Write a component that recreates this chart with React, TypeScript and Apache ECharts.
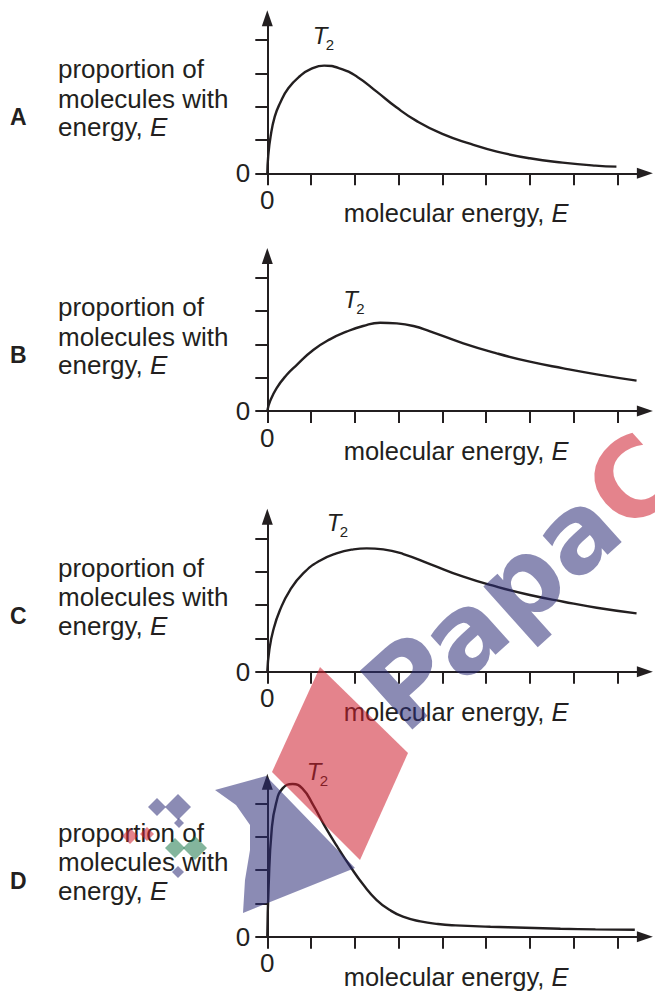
import { useEffect, useRef } from "react";
import * as echarts from "echarts";

// Panel identifiers
const panelLetters = ["A", "B", "C", "D"];

// Tick positions (one step per tick mark) and the single labelled value
const xTickValues = [0, 1, 2, 3, 4, 5, 6, 7, 8];
const yTickValues = [0, 1, 2, 3, 4];
const zeroLabel = [0];

// Axis titles
const yTitleLines = ["proportion of", "molecules with", "energy, "];
const italicSymbol = "E";
const xTitle = "molecular energy, ";
const curveLabel = { main: "T", sub: "2" };

// Energy distribution curves: [molecular energy, proportion of molecules]
const curveA: number[][] = [
  [0, 0], [0.02, 0.5], [0.075, 1.1], [0.17, 1.7], [0.29, 2.1], [0.48, 2.55],
  [0.75, 2.92], [1.0, 3.13], [1.3, 3.23], [1.65, 3.15], [2.05, 2.9], [2.5, 2.45],
  [2.95, 1.98], [3.4, 1.58], [4.0, 1.18], [4.65, 0.88], [5.25, 0.65], [6.0, 0.45],
  [6.75, 0.32], [7.5, 0.23], [7.98, 0.2],
];
const curveB: number[][] = [
  [0, 0], [0.06, 0.28], [0.21, 0.68], [0.44, 1.08], [0.67, 1.38], [1.05, 1.83],
  [1.43, 2.15], [1.81, 2.38], [2.19, 2.55], [2.58, 2.65], [2.96, 2.63], [3.34, 2.55],
  [3.72, 2.39], [4.48, 2.03], [5.24, 1.73], [6.0, 1.48], [6.77, 1.28], [7.53, 1.1],
  [8.44, 0.91],
];
const curveC: number[][] = [
  [0, 0], [0.046, 0.65], [0.137, 1.25], [0.29, 1.85], [0.52, 2.45], [0.82, 2.95],
  [1.2, 3.33], [1.58, 3.55], [1.97, 3.67], [2.27, 3.7], [2.65, 3.67], [3.11, 3.53],
  [3.72, 3.23], [4.48, 2.85], [5.24, 2.55], [6.0, 2.3], [6.77, 2.1], [7.53, 1.92],
  [8.44, 1.75],
];
const curveD: number[][] = [
  [0, 0], [0.03, 1.5], [0.1, 3.2], [0.2, 4.0], [0.35, 4.45], [0.58, 4.58],
  [0.8, 4.45], [1.05, 3.95], [1.3, 3.35], [1.6, 2.7], [1.9, 2.1], [2.2, 1.55],
  [2.5, 1.1], [2.8, 0.8], [3.1, 0.6], [3.5, 0.46], [3.9, 0.38], [4.3, 0.34],
  [5.1, 0.3], [5.9, 0.27], [6.7, 0.24], [7.5, 0.22], [8.4, 0.21],
];
const curves = [curveA, curveB, curveC, curveD];

// Layout
const PAGE_W = 655;
const PAGE_H = 996;
const AXIS_X = 267.3;
const ORIGIN_Y = [173.3, 411, 671.7, 936.7];
const X_STEP = 43.75;
const Y_STEP = 33.33;
const X_MAX = 8.63;
const Y_MAX = 4.65;
const T_OFFSETS = [
  [52.7, -138.3],
  [83.2, -112],
  [66.7, -149.2],
  [46.7, -165.2],
];
const TITLE_ROWS = [-104, -74.5, -46];

const INK = "#231f20";
const FONT = "'Liberation Sans', Arial, Helvetica, sans-serif";
const TEXT_SIZE = 26;

// Watermark colours
const WM_BLUE = "rgb(44,44,118)";
const WM_RED = "rgb(205,30,45)";
const WM_GREEN = "rgb(30,120,75)";
const WM_OPACITY = 0.55;
const WM_FONT = "'DejaVu Sans', sans-serif";
const WM_SIZE = 108;

function diamond(cx: number, cy: number, r: number) {
  return [
    [cx, cy - r],
    [cx + r, cy],
    [cx, cy + r],
    [cx - r, cy],
  ];
}

function textEl(x: number, y: number, text: string, extra: any = {}, z = 10) {
  const align = extra.align || "left";
  const vAlign = extra.verticalAlign || "middle";
  return {
    type: "text",
    x,
    y,
    z,
    silent: true,
    style: {
      text,
      fill: INK,
      fontFamily: FONT,
      fontSize: TEXT_SIZE,
      ...extra,
      align,
      textAlign: align,
      verticalAlign: vAlign,
      textVerticalAlign: vAlign,
    },
  };
}

function buildOption() {
  const grids: any[] = [];
  const xAxes: any[] = [];
  const yAxes: any[] = [];
  const series: any[] = [];
  const graphics: any[] = [];

  curves.forEach((data, i) => {
    const oy = ORIGIN_Y[i];
    grids.push({
      left: AXIS_X,
      top: oy - Y_MAX * Y_STEP,
      width: X_MAX * X_STEP,
      height: Y_MAX * Y_STEP,
      containLabel: false,
      outerBoundsMode: "none",
    });
    xAxes.push({
      type: "value",
      gridIndex: i,
      min: 0,
      max: X_MAX,
      interval: 1,
      axisLine: {
        show: true,
        onZero: false,
        symbol: ["none", "triangle"],
        symbolSize: [11, 16],
        lineStyle: { color: INK, width: 2 },
      },
      axisTick: {
        show: true,
        inside: false,
        length: 12,
        customValues: xTickValues,
        lineStyle: { color: INK, width: 2 },
      },
      axisLabel: {
        show: true,
        customValues: zeroLabel,
        margin: 14,
        fontSize: TEXT_SIZE,
        lineHeight: 25,
        color: INK,
        fontFamily: FONT,
        formatter: (v: number) => String(v),
      },
      splitLine: { show: false },
      name: `{n|${xTitle}}{i|${italicSymbol}}`,
      nameLocation: "middle",
      nameGap: 26,
      nameMoveOverlap: false,
      nameTextStyle: {
        fontSize: 25.5,
        lineHeight: 28,
        color: INK,
        fontFamily: FONT,
        rich: {
          n: { fontSize: 25.5, lineHeight: 28, color: INK, fontFamily: FONT },
          i: { fontSize: 25.5, lineHeight: 28, color: INK, fontFamily: FONT, fontStyle: "italic" },
        },
      },
    });
    yAxes.push({
      type: "value",
      gridIndex: i,
      min: 0,
      max: Y_MAX,
      interval: 1,
      axisLine: {
        show: true,
        onZero: false,
        symbol: ["none", "triangle"],
        symbolSize: [11, 16],
        lineStyle: { color: INK, width: 2 },
      },
      axisTick: {
        show: true,
        inside: false,
        length: 12,
        customValues: yTickValues,
        lineStyle: { color: INK, width: 2 },
      },
      axisLabel: {
        show: true,
        customValues: zeroLabel,
        margin: 17,
        fontSize: TEXT_SIZE,
        color: INK,
        fontFamily: FONT,
        formatter: (v: number) => String(v),
      },
      splitLine: { show: false },
    });
    series.push({
      type: "line",
      xAxisIndex: i,
      yAxisIndex: i,
      data,
      showSymbol: false,
      symbol: "none",
      smooth: 0.5,
      clip: false,
      silent: true,
      lineStyle: { color: INK, width: 2.4 },
    });

    // panel letter
    graphics.push(
      textEl(10, oy - 56, panelLetters[i], { fontSize: 23, fontWeight: "bold" })
    );
    // y-axis title, three left-aligned rows
    graphics.push(textEl(58, oy + TITLE_ROWS[0], yTitleLines[0]));
    graphics.push(textEl(58, oy + TITLE_ROWS[1], yTitleLines[1]));
    graphics.push(
      textEl(58, oy + TITLE_ROWS[2], `{n|${yTitleLines[2]}}{i|${italicSymbol}}`, {
        rich: {
          n: { fontSize: TEXT_SIZE, fill: INK, fontFamily: FONT },
          i: { fontSize: TEXT_SIZE, fill: INK, fontFamily: FONT, fontStyle: "italic" },
        },
      })
    );
    // curve label T with subscript 2
    const [tx, ty] = T_OFFSETS[i];
    graphics.push(
      textEl(AXIS_X + tx, oy + ty, curveLabel.main, {
        fontSize: 24,
        fontStyle: "italic",
        align: "center",
      })
    );
    graphics.push(
      textEl(AXIS_X + tx + 10, oy + ty + 9, curveLabel.sub, {
        fontSize: 15,
        align: "center",
      })
    );
  });

  // watermark
  const wm = (points: number[][], fill: string) => ({
    type: "polygon",
    z: 100,
    silent: true,
    shape: { points },
    style: { fill, opacity: WM_OPACITY },
  });
  graphics.push(wm([[320, 667], [408, 753], [360, 860], [272, 772]], WM_RED));
  graphics.push(
    wm(
      [[215, 790], [266, 776], [355, 868], [243, 913], [245, 880], [250, 850], [250, 825], [236, 805]],
      WM_BLUE
    )
  );
  graphics.push(wm(diamond(157, 807, 9), WM_BLUE));
  graphics.push(wm(diamond(178, 807, 13), WM_BLUE));
  graphics.push(wm(diamond(179, 823, 5), WM_BLUE));
  graphics.push(wm(diamond(178, 872, 6), WM_BLUE));
  graphics.push(wm(diamond(130, 836, 8), WM_RED));
  graphics.push(wm(diamond(147, 834, 7), WM_RED));
  graphics.push(wm(diamond(175, 848, 10), WM_GREEN));
  graphics.push(wm(diamond(195, 848, 12), WM_GREEN));
  graphics.push({
    type: "text",
    x: 380,
    y: 708,
    z: 100,
    silent: true,
    rotation: 0.73,
    style: {
      text: "{b|Papa}{r|Ca}",
      fontFamily: WM_FONT,
      fontSize: WM_SIZE,
      fontWeight: "bold",
      opacity: WM_OPACITY,
      align: "left",
      textAlign: "left",
      verticalAlign: "middle",
      textVerticalAlign: "middle",
      rich: {
        b: { fill: WM_BLUE, fontSize: WM_SIZE, fontWeight: "bold", fontFamily: WM_FONT },
        r: { fill: WM_RED, fontSize: WM_SIZE, fontWeight: "bold", fontFamily: WM_FONT },
      },
    },
  });

  return {
    animation: false,
    backgroundColor: "#ffffff",
    grid: grids,
    xAxis: xAxes,
    yAxis: yAxes,
    series,
    graphic: { elements: graphics },
  };
}

export default function App() {
  const ref = useRef<HTMLDivElement>(null);
  useEffect(() => {
    if (!ref.current) return;
    const chart = echarts.init(ref.current, undefined, { renderer: "svg" });
    chart.setOption(buildOption() as any);
    return () => chart.dispose();
  }, []);
  return (
    <div
      ref={ref}
      style={{
        position: "fixed",
        left: 0,
        top: 0,
        width: PAGE_W,
        height: PAGE_H,
        background: "#fff",
      }}
    />
  );
}
